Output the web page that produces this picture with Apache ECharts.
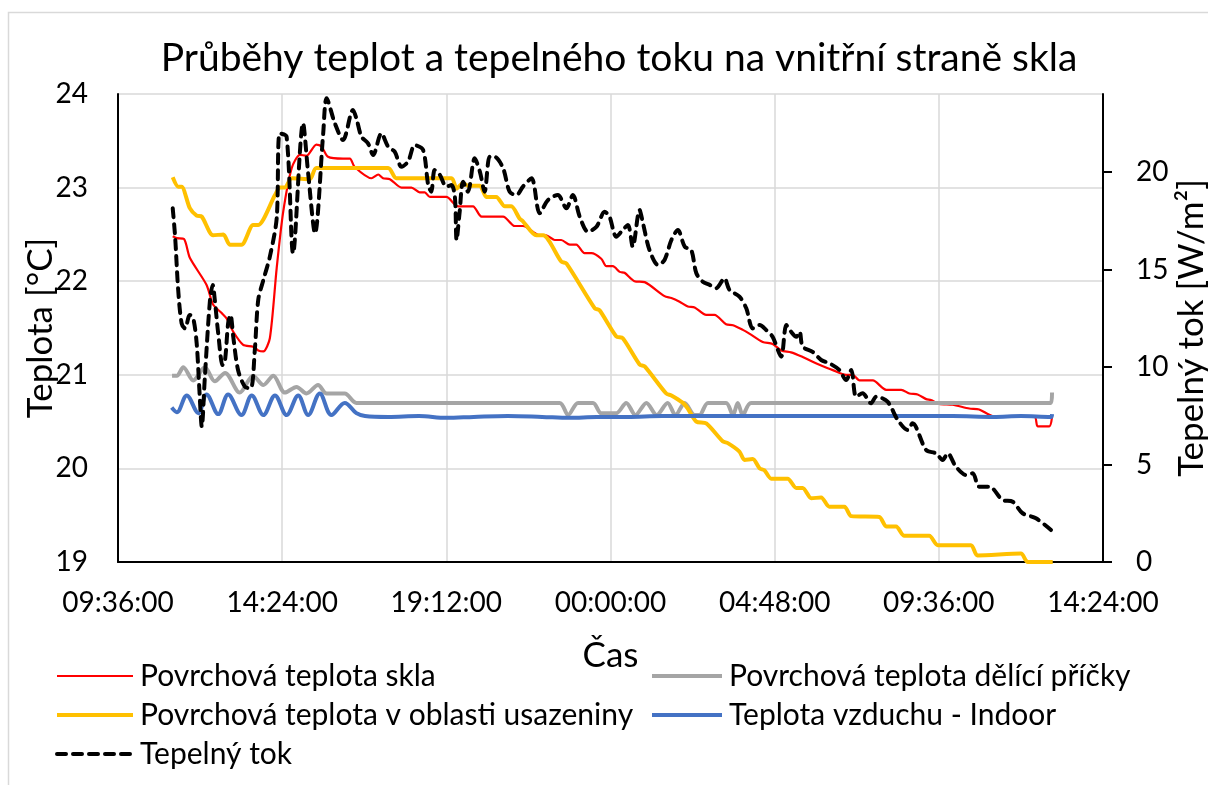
<!DOCTYPE html>
<html>
<head>
<meta charset="utf-8">
<script src="https://cdn.jsdelivr.net/npm/echarts@6/dist/echarts.min.js"></script>
<style>
  html, body { margin: 0; padding: 0; background: #fff; }
  #chart { width: 1208px; height: 785px; }
</style>
</head>
<body>
<div id="chart"></div>
<script>
// time in hours from midnight of the first day (values over 24 = next day)
const seriesNames = [
  'Povrchová teplota skla',
  'Povrchová teplota dělící příčky',
  'Povrchová teplota v oblasti usazeniny',
  'Teplota vzduchu - Indoor',
  'Tepelný tok'
]

const sklo = [[11.20,22.48],[11.32,22.46],[11.53,22.45],[11.70,22.25],[12.19,21.96],[12.38,21.75],[12.63,21.66],[12.78,21.60],[12.97,21.46],[13.26,21.32],[13.55,21.30],[13.70,21.26],[13.85,21.25],[14.04,21.39],[14.24,22.14],[14.43,22.74],[14.68,23.21],[14.92,23.35],[15.11,23.34],[15.40,23.46],[15.55,23.44],[15.74,23.33],[16.18,23.31],[16.38,23.31],[16.52,23.22],[17.01,23.10],[17.21,23.14],[17.35,23.10],[17.55,23.09],[17.89,23.00],[18.18,23.00],[18.42,22.95],[18.57,22.95],[18.72,22.90],[19.20,22.90],[19.54,22.80],[19.98,22.80],[20.23,22.69],[20.86,22.69],[21.20,22.59],[21.44,22.59],[21.93,22.49],[22.12,22.49],[22.37,22.44],[22.56,22.44],[22.81,22.39],[23.00,22.39],[23.24,22.30],[23.44,22.30],[23.73,22.24],[23.88,22.16],[24.07,22.16],[24.27,22.10],[24.41,22.09],[24.70,22.00],[25.00,21.99],[25.58,21.84],[25.78,21.82],[26.02,21.78],[26.26,21.73],[26.46,21.72],[26.80,21.64],[27.04,21.64],[27.38,21.54],[27.58,21.53],[27.87,21.48],[28.06,21.44],[28.45,21.35],[28.74,21.33],[28.99,21.26],[29.28,21.24],[29.62,21.19],[29.91,21.14],[30.16,21.10],[30.50,21.05],[30.89,21.00],[31.08,21.00],[31.28,20.94],[31.67,20.94],[32.06,20.84],[32.50,20.84],[32.74,20.80],[32.98,20.79],[33.23,20.74],[33.37,20.73],[33.61,20.69],[34.00,20.68],[34.49,20.64],[34.78,20.63],[35.17,20.56],[36.40,20.55],[36.49,20.45],[36.83,20.45],[36.91,20.55]]

const pricka = [[11.18,20.99],[11.32,20.99],[11.51,21.08],[11.80,20.94],[12.14,21.08],[12.43,20.93],[12.73,21.02],[13.16,20.81],[13.55,20.99],[13.85,20.89],[14.14,20.99],[14.48,20.81],[14.82,20.87],[15.11,20.80],[15.45,20.89],[15.70,20.80],[16.23,20.80],[16.57,20.70],[22.51,20.70],[22.76,20.57],[23.05,20.70],[23.49,20.70],[23.73,20.59],[24.17,20.59],[24.46,20.70],[24.73,20.57],[25.05,20.70],[25.35,20.57],[25.67,20.70],[25.90,20.57],[26.17,20.70],[26.46,20.57],[26.60,20.57],[26.85,20.70],[27.38,20.70],[27.58,20.57],[27.72,20.70],[27.87,20.57],[28.11,20.70],[36.88,20.70],[36.91,20.81]]

const usazenina = [[11.20,23.11],[11.36,23.01],[11.46,23.01],[11.70,22.78],[11.90,22.70],[12.05,22.69],[12.38,22.49],[12.68,22.50],[12.87,22.39],[13.21,22.39],[13.55,22.60],[13.70,22.60],[14.19,22.92],[14.33,23.00],[14.48,23.00],[14.68,23.10],[15.21,23.09],[15.40,23.21],[17.50,23.21],[17.74,23.10],[19.35,23.10],[19.50,22.99],[19.69,23.05],[19.83,23.02],[20.18,23.02],[20.37,22.90],[20.66,22.90],[20.91,22.80],[21.10,22.80],[21.34,22.67],[21.44,22.64],[21.83,22.49],[22.03,22.49],[22.56,22.21],[22.71,22.19],[23.54,21.71],[23.68,21.69],[24.17,21.41],[24.36,21.39],[24.85,21.11],[25.00,21.09],[25.63,20.80],[25.78,20.78],[26.12,20.70],[26.26,20.64],[26.51,20.50],[26.80,20.48],[27.28,20.29],[27.43,20.27],[27.77,20.18],[27.92,20.09],[28.16,20.10],[28.36,20.00],[28.50,19.98],[28.70,19.89],[29.18,19.89],[29.43,19.79],[29.62,19.79],[29.87,19.68],[30.16,19.69],[30.40,19.59],[30.84,19.59],[31.04,19.49],[31.86,19.48],[32.06,19.38],[32.35,19.38],[32.59,19.28],[33.32,19.28],[33.57,19.18],[34.54,19.18],[34.73,19.07],[36.00,19.09],[36.20,19.00],[36.93,19.00]]

const vzduch = [[11.17,20.65],[11.32,20.60],[11.61,20.78],[11.95,20.59],[12.19,20.79],[12.53,20.58],[12.82,20.79],[13.21,20.57],[13.51,20.78],[13.85,20.57],[14.19,20.78],[14.53,20.57],[14.87,20.78],[15.16,20.57],[15.50,20.80],[15.84,20.57],[16.23,20.70],[16.57,20.59],[16.82,20.56],[17.50,20.55],[18.40,20.56],[19.20,20.54],[20.00,20.55],[21.00,20.56],[22.00,20.55],[22.80,20.54],[23.60,20.55],[24.50,20.55],[25.50,20.56],[26.50,20.56],[28.00,20.56],[29.50,20.56],[31.00,20.56],[32.50,20.56],[34.00,20.56],[35.20,20.55],[36.00,20.56],[36.88,20.55],[36.91,20.58]]

const tok = [[11.20,18.14],[11.27,16.68],[11.36,13.95],[11.46,12.24],[11.56,11.98],[11.70,12.67],[11.80,12.50],[11.90,11.22],[11.98,8.82],[12.05,6.94],[12.14,9.50],[12.29,13.44],[12.37,14.21],[12.43,13.44],[12.53,11.73],[12.66,10.10],[12.73,10.36],[12.82,12.24],[12.89,12.67],[12.97,11.55],[13.11,9.85],[13.31,8.99],[13.48,8.91],[13.60,10.87],[13.70,13.44],[13.85,14.46],[14.04,15.66],[14.24,17.63],[14.33,21.98],[14.53,21.81],[14.72,15.83],[15.01,22.50],[15.16,19.93],[15.36,16.86],[15.60,21.98],[15.70,23.78],[15.94,22.50],[16.18,21.64],[16.47,23.18],[16.57,22.75],[16.72,21.81],[16.91,21.47],[17.06,20.87],[17.30,21.98],[17.50,21.30],[17.69,21.04],[17.89,20.27],[18.08,20.53],[18.28,21.38],[18.52,21.13],[18.67,19.33],[18.76,18.99],[18.86,20.10],[19.01,19.85],[19.20,19.25],[19.35,19.33],[19.45,18.73],[19.50,16.51],[19.59,17.96],[19.69,19.50],[19.83,18.99],[20.03,20.70],[20.18,20.02],[20.32,18.99],[20.47,20.78],[20.61,20.78],[20.86,20.19],[21.05,18.99],[21.25,18.82],[21.44,19.25],[21.69,19.68],[21.93,17.88],[22.17,18.56],[22.46,18.82],[22.71,18.14],[22.90,18.82],[23.10,17.71],[23.34,16.94],[23.59,17.19],[23.83,17.96],[23.97,17.71],[24.17,16.68],[24.36,17.03],[24.51,17.28],[24.65,16.17],[24.85,18.05],[24.95,17.37],[25.14,16.00],[25.39,15.23],[25.58,15.49],[25.78,16.51],[25.97,17.03],[26.17,16.17],[26.36,16.00],[26.51,14.81],[26.70,14.37],[26.90,14.21],[27.09,14.04],[27.33,14.55],[27.48,13.95],[27.77,13.61],[27.97,13.01],[28.16,11.98],[28.36,12.15],[28.55,11.90],[28.74,11.55],[28.99,10.53],[29.14,12.15],[29.28,11.81],[29.43,11.55],[29.53,11.81],[29.62,11.04],[29.91,10.78],[30.16,10.36],[30.40,10.19],[30.69,9.85],[30.89,9.33],[31.04,9.85],[31.18,8.48],[31.37,8.65],[31.62,8.14],[31.77,8.48],[32.10,8.22],[32.40,7.28],[32.69,6.77],[32.83,7.11],[33.23,5.74],[33.52,5.57],[33.71,5.23],[33.86,5.57],[34.10,4.89],[34.40,4.46],[34.59,4.55],[34.78,3.86],[35.08,3.86],[35.46,3.18],[35.76,3.09],[36.05,2.50],[36.44,2.24],[36.88,1.64]]

const tokTicks = [0, 5, 10, 15, 20]

const font = 'Lato, "Noto Sans", sans-serif'

const colors = ['#ff0000', '#a5a5a5', '#ffc000', '#4472c4', '#000000']
const widths = [2.2, 4, 4, 4, 4]
const tokDash = [9, 7]

const fmtTime = (v) => {
  const m = ((Math.round(v * 60) % 1440) + 1440) % 1440
  const hh = String(Math.floor(m / 60)).padStart(2, '0')
  const mm = String(m % 60).padStart(2, '0')
  return hh + ':' + mm + ':00'
}

const legendItem = (i) => ({
  name: seriesNames[i],
  lineStyle: { color: colors[i], width: widths[i], type: i === 4 ? tokDash : 'solid', cap: i === 4 ? 'round' : 'butt' }
})

const legendBase = {
  orient: 'vertical',
  top: 655,
  itemHeight: 14,
  itemGap: 7,
  itemStyle: { opacity: 0 },
  textStyle: { fontFamily: font, fontSize: 30, color: '#000', lineHeight: 32, padding: [0, 0, 0, 2] }
}

const chart = echarts.init(document.getElementById('chart'))

const option = {
  animation: false,
  backgroundColor: '#fff',
  textStyle: { fontFamily: font, color: '#000' },
  title: {
    text: 'Průběhy teplot a tepelného toku na vnitřní straně skla',
    left: 614,
    textAlign: 'center',
    top: 34,
    textStyle: { fontFamily: font, fontSize: 39, fontWeight: 'normal', color: '#000' }
  },
  graphic: [{
    type: 'rect',
    silent: true,
    z: -10,
    shape: { x: 8.5, y: 12.5, width: 1220, height: 800 },
    style: { fill: 'none', stroke: '#d9d9d9', lineWidth: 1.5 }
  }],
  legend: [
    Object.assign({}, legendBase, { left: 50, itemWidth: 76, data: [0, 2, 4].map(legendItem) }),
    Object.assign({}, legendBase, { left: 645, itemWidth: 70, data: [1, 3].map(legendItem) })
  ],
  grid: { left: 118, right: 105, top: 94, bottom: 223, containLabel: false, outerBoundsMode: 'none' },
  xAxis: {
    type: 'value',
    min: 9.6,
    max: 38.4,
    interval: 4.8,
    name: 'Čas',
    nameLocation: 'middle',
    nameGap: 76,
    nameMoveOverlap: false,
    nameTextStyle: { fontFamily: font, fontSize: 35, color: '#000' },
    axisLine: { lineStyle: { color: '#000', width: 2 } },
    axisTick: { show: false },
    axisLabel: { formatter: fmtTime, fontSize: 28, color: '#000', margin: 27, fontFamily: font },
    splitLine: { show: true, lineStyle: { color: '#d9d9d9', width: 1.5 } }
  },
  yAxis: [
    {
      type: 'value',
      min: 19,
      max: 24,
      interval: 1,
      name: 'Teplota [°C]',
      nameLocation: 'middle',
      nameRotate: 90,
      nameGap: 60,
      nameMoveOverlap: false,
      nameTextStyle: { fontFamily: font, fontSize: 35, color: '#000' },
      axisLine: { show: true, lineStyle: { color: '#000', width: 2 } },
      axisTick: { show: false },
      axisLabel: { fontSize: 28, color: '#000', margin: 30, fontFamily: font },
      splitLine: { show: true, lineStyle: { color: '#d9d9d9', width: 1.5 } }
    },
    {
      type: 'value',
      position: 'right',
      min: 0,
      max: 24,
      interval: 5,
      name: 'Tepelný tok [W/m²]',
      nameLocation: 'middle',
      nameRotate: 90,
      nameGap: 71,
      nameMoveOverlap: false,
      nameTextStyle: { fontFamily: font, fontSize: 35, color: '#000' },
      axisLine: { show: true, lineStyle: { color: '#000', width: 2 } },
      axisTick: { show: true, length: 9, lineStyle: { color: '#000', width: 2 }, customValues: tokTicks },
      axisLabel: { fontSize: 28, color: '#000', margin: 33, fontFamily: font, customValues: tokTicks },
      splitLine: { show: false }
    }
  ],
  series: [
    {
      name: seriesNames[0], type: 'line', yAxisIndex: 0, data: sklo,
      symbol: 'none', smooth: 0.25, color: colors[0],
      lineStyle: { color: colors[0], width: widths[0] }
    },
    {
      name: seriesNames[1], type: 'line', yAxisIndex: 0, data: pricka,
      symbol: 'none', smooth: 0.3, color: colors[1],
      lineStyle: { color: colors[1], width: widths[1] }
    },
    {
      name: seriesNames[2], type: 'line', yAxisIndex: 0, data: usazenina,
      symbol: 'none', smooth: 0.25, color: colors[2],
      lineStyle: { color: colors[2], width: widths[2] }
    },
    {
      name: seriesNames[3], type: 'line', yAxisIndex: 0, data: vzduch,
      symbol: 'none', smooth: 0.35, color: colors[3],
      lineStyle: { color: colors[3], width: widths[3] }
    },
    {
      name: seriesNames[4], type: 'line', yAxisIndex: 1, data: tok,
      symbol: 'none', smooth: 0.3, color: colors[4],
      lineStyle: { color: colors[4], width: widths[4], type: tokDash, cap: 'round' }
    }
  ]
}

chart.setOption(option)
window.addEventListener('resize', () => chart.resize())
</script>
</body>
</html>
